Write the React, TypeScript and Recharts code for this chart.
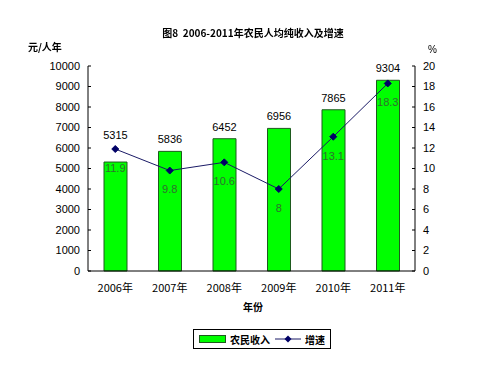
import React from "react";
import {
  ComposedChart,
  Bar,
  Line,
  XAxis,
  YAxis,
  LabelList,
} from "recharts";

const years = ["2006年", "2007年", "2008年", "2009年", "2010年", "2011年"];
const income = [5315, 5836, 6452, 6956, 7865, 9304];
const growth = [11.9, 9.8, 10.6, 8, 13.1, 18.3];
const leftTicks = [0, 1000, 2000, 3000, 4000, 5000, 6000, 7000, 8000, 9000, 10000];
const rightTicks = [0, 2, 4, 6, 8, 10, 12, 14, 16, 18, 20];

const data = years.map((year, i) => ({
  year,
  income: income[i],
  growth: growth[i],
}));

const FONT = '"Liberation Sans", Arial, "Noto Sans CJK SC", sans-serif';
const CJK = '"Noto Sans CJK SC", "Liberation Sans", sans-serif';

const Diamond = (props: any) => {
  const { cx, cy } = props;
  if (cx == null || cy == null) return null;
  const r = 3.5;
  return (
    <polygon
      points={`${cx},${cy - r} ${cx + r},${cy} ${cx},${cy + r} ${cx - r},${cy}`}
      fill="#000066"
      stroke="#000066"
    />
  );
};

// bar value label; lifted above the line marker when they would collide
const BarValue = (props: any) => {
  const { x, y, width, height, value, index } = props;
  const bottom = y + height;
  const perUnit = height / value;
  const markerY = bottom - (growth[index] / 20) * 10000 * perUnit;
  let ty = y - 12;
  if (Math.abs(ty - markerY) < 12) ty = markerY - 14;
  return (
    <text
      x={x + width / 2}
      y={ty}
      textAnchor="middle"
      dominantBaseline="central"
      fill="#000"
      fontSize={11}
      fontFamily={FONT}
    >
      {value}
    </text>
  );
};

const overlay = (left: number, top: number, extra: any = {}) => ({
  position: "absolute" as const,
  left,
  top,
  fontFamily: CJK,
  fontSize: 11,
  color: "#000",
  lineHeight: "14px",
  whiteSpace: "nowrap" as const,
  ...extra,
});

export default function App() {
  return (
    <div
      style={{
        position: "fixed",
        left: 0,
        top: 0,
        width: 489,
        height: 378,
        background: "#fff",
      }}
    >
      <ComposedChart
        width={489}
        height={378}
        data={data}
        margin={{ top: 66, right: 0, left: 0, bottom: 77 }}
      >
        <XAxis
          dataKey="year"
          stroke="#000"
          tickLine={false}
          tick={{ fill: "#000", fontSize: 11, fontFamily: CJK }}
          tickMargin={7}
          height={30}
        />
        <YAxis
          yAxisId="left"
          domain={[0, 10000]}
          ticks={leftTicks}
          interval={0}
          width={88}
          stroke="#000"
          tickSize={-3}
          tickMargin={11}
          tick={{ fill: "#000", fontSize: 11, fontFamily: FONT }}
        />
        <YAxis
          yAxisId="right"
          orientation="right"
          domain={[0, 20]}
          ticks={rightTicks}
          interval={0}
          width={74}
          stroke="#000"
          tickSize={-3}
          tickMargin={11}
          tick={{ fill: "#000", fontSize: 11, fontFamily: FONT }}
        />
        <Bar
          yAxisId="left"
          dataKey="income"
          fill="#00ff00"
          stroke="#1e5a1e"
          strokeWidth={1}
          barSize={23}
          isAnimationActive={false}
        >
          <LabelList dataKey="income" content={<BarValue />} />
        </Bar>
        <Line
          yAxisId="right"
          dataKey="growth"
          stroke="#1a1a66"
          strokeWidth={1}
          dot={<Diamond />}
          activeDot={false}
          isAnimationActive={false}
        >
          <LabelList
            dataKey="growth"
            position="bottom"
            offset={15}
            fill="#2f6f2f"
            fontSize={11}
            fontFamily={FONT}
          />
        </Line>
      </ComposedChart>

      <div style={overlay(0, 26, { width: 506, textAlign: "center", fontWeight: "bold", fontSize: 10 })}>
        图8&nbsp;&nbsp;2006-2011年农民人均纯收入及增速
      </div>
      <div style={overlay(28, 40, { fontWeight: "bold", fontSize: 10 })}>元/人年</div>
      <div style={overlay(428, 43, { fontFamily: FONT, fontSize: 10 })}>%</div>
      <div style={overlay(243, 300, { fontWeight: "bold", fontSize: 10 })}>年份</div>

      <div
        style={{
          position: "absolute",
          left: 193,
          top: 329,
          width: 138,
          height: 20,
          border: "1px solid #000",
          boxSizing: "border-box",
          display: "flex",
          alignItems: "center",
          fontFamily: CJK,
          fontSize: 10,
          fontWeight: "bold",
        }}
      >
        <span
          style={{
            display: "inline-block",
            width: 25,
            height: 6,
            background: "#00ff00",
            border: "1px solid #1e5a1e",
            marginLeft: 5,
            marginRight: 4,
          }}
        />
        <span>农民收入</span>
        <svg width={26} height={10} style={{ marginLeft: 5, marginRight: 4 }}>
          <line x1={0} y1={5} x2={26} y2={5} stroke="#1a1a66" strokeWidth={1} />
          <polygon points="13,1.5 16.5,5 13,8.5 9.5,5" fill="#000066" />
        </svg>
        <span>增速</span>
      </div>
    </div>
  );
}
